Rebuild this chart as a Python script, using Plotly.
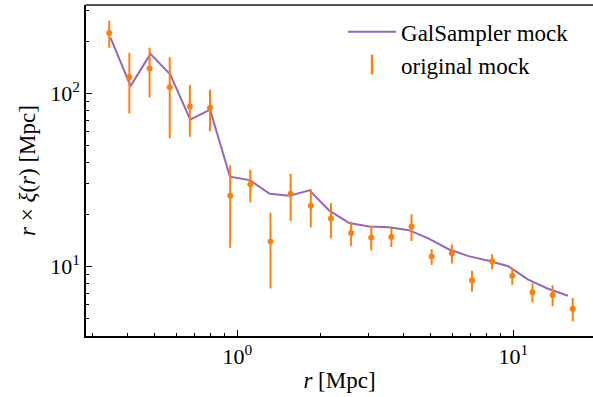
import plotly.graph_objects as go

# ---- data ----
r_mock = [0.3437, 0.4066, 0.4811, 0.5693, 0.6735, 0.7967, 0.9426, 1.1152,
          1.3194, 1.5610, 1.8468, 2.1846, 2.5850, 3.0583, 3.6175, 4.2797,
          5.0615, 5.9912, 7.0870, 8.3831, 9.917, 11.733, 13.881, 16.42]
xi_mock = [223, 124, 139, 108.3, 83.8, 82.6, 25.6, 29.8, 13.95, 26.3, 22.4, 18.9,
           15.6, 14.7, 14.8, 17.0, 11.4, 11.9, 8.3, 10.7, 8.83, 7.08, 6.84, 5.69]
xi_err = [40, 47.5, 44.5, 53.3, 27.7, 22.3, 12.8, 6.4, 6.5, 8.0, 5.6, 4.35,
          2.5, 2.35, 1.85, 3.0, 1.2, 1.5, 1.15, 1.07, 1.0, 0.9, 0.95, 0.88]

r_gal = [0.3477, 0.4106, 0.4847, 0.5722, 0.6755, 0.7970, 0.9408, 1.1105,
         1.3109, 1.5474, 1.8265, 2.1566, 2.5451, 3.0039, 3.5465, 4.1848,
         4.9400, 5.8330, 6.8850, 8.1264, 9.5940, 11.324, 13.366, 15.782]
xi_gal = [209.1, 110.0, 168.9, 128.3, 70.5, 80.5, 33.0, 31.5, 26.3, 25.6, 27.5, 21.0,
          17.8, 17.0, 16.85, 16.2, 14.46, 12.57, 11.46, 10.79, 10.03, 8.38, 7.43, 6.77]

major_x = [1, 10]
major_x_text = ["10<sup>0</sup>", "10<sup>1</sup>"]
major_y = [10, 100]
major_y_text = ["10<sup>1</sup>", "10<sup>2</sup>"]
minor_x = [0.3, 0.4, 0.5, 0.6, 0.7, 0.8, 0.9, 2, 3, 4, 5, 6, 7, 8, 9]
minor_y = [4, 5, 6, 7, 8, 9, 20, 30, 40, 50, 60, 70, 80, 90, 200, 300]

C_LINE = "#9467bd"
C_PTS = "#ff7f0e"
FONT = "Liberation Serif"

fig = go.Figure()
fig.add_trace(go.Scatter(
    x=r_gal, y=xi_gal, mode="lines", name="GalSampler mock",
    line=dict(color=C_LINE, width=2)))
fig.add_trace(go.Scatter(
    x=r_mock, y=xi_mock, mode="markers", name="original mock", showlegend=False,
    marker=dict(color=C_PTS, size=6),
    error_y=dict(type="data", array=xi_err, color=C_PTS, thickness=2, width=0)))
# legend proxy for the error-bar series
fig.add_trace(go.Scatter(
    x=[None], y=[None], mode="markers", name="original mock",
    marker=dict(color=C_PTS, symbol="line-ns-open", size=14,
                line=dict(color=C_PTS, width=2.5))))

axis_common = dict(
    type="log", showgrid=False, zeroline=False, showline=True,
    linecolor="black", linewidth=1.5, ticks="inside", ticklen=6, tickwidth=1,
    tickcolor="black", tickmode="array", mirror=False,
    tickfont=dict(family=FONT, size=22, color="black"),
)

fig.update_xaxes(
    **axis_common, range=[-0.548, 1.2888],
    tickvals=major_x, ticktext=major_x_text,
    minor=dict(tickmode="array", tickvals=minor_x, ticks="inside",
               ticklen=3.5, tickwidth=1, tickcolor="black", showgrid=False),
    title=dict(text="<i>r</i> [Mpc]", font=dict(family=FONT, size=23, color="black"),
               standoff=4),
)
fig.update_yaxes(
    **axis_common, range=[0.598, 2.51],
    tickvals=major_y, ticktext=major_y_text,
    minor=dict(tickmode="array", tickvals=minor_y, ticks="inside",
               ticklen=3.5, tickwidth=1, tickcolor="black", showgrid=False),
    title=dict(text="<i>r</i> × <i>ξ</i>(<i>r</i>) [Mpc]",
               font=dict(family=FONT, size=23, color="black"), standoff=8),
)

fig.add_shape(type="line", xref="paper", yref="paper", x0=0, x1=1, y0=1, y1=1,
              line=dict(color="#555555", width=2))

fig.update_layout(
    width=593, height=397,
    margin=dict(l=86, r=0, t=5, b=61, autoexpand=False),
    paper_bgcolor="white", plot_bgcolor="white",
    font=dict(family=FONT, color="black"),
    showlegend=True,
    legend=dict(x=0.507, y=0.984, xanchor="left", yanchor="top",
                bgcolor="rgba(0,0,0,0)", font=dict(family=FONT, size=23),
                itemwidth=48, tracegroupgap=0),
)

fig.write_html(
    "out.html",
    config={"displayModeBar": False},
    post_script="document.body.style.margin='0';document.body.style.overflow='hidden';",
)
